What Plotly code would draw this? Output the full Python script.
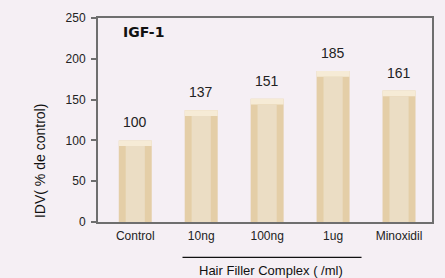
import plotly.graph_objects as go

categories = ["Control", "10ng", "100ng", "1ug", "Minoxidil"]
values = [100, 137, 151, 185, 161]
y_ticks = [0, 50, 100, 150, 200, 250]

bevel = 7  # height of the light top bevel, in data units
side_color = "#E4CEA7"
face_color = "#EBDDC4"
top_color = "#F6EBD6"
bg = "#F5EFF4"
axis_color = "#6E6E6E"

fig = go.Figure()
fig.add_trace(go.Bar(x=categories, y=values, width=0.5, marker=dict(color=side_color, line=dict(width=0)),
                     hoverinfo="skip"))
fig.add_trace(go.Bar(x=categories, y=[bevel] * len(values), base=[v - bevel for v in values], width=0.5,
                     marker=dict(color=top_color, line=dict(width=0)), hoverinfo="skip"))
fig.add_trace(go.Bar(x=categories, y=[v - bevel for v in values], width=0.29,
                     marker=dict(color=face_color, line=dict(width=0)), hoverinfo="skip"))

for c, v in zip(categories, values):
    fig.add_annotation(x=c, y=v, text=str(v), showarrow=False, yshift=18, yanchor="middle",
                       font=dict(family="Liberation Sans, Arial", size=14, color="#222"))

fig.add_annotation(xref="paper", yref="paper", x=0.069, y=0.933, xanchor="left", yanchor="middle",
                   text="<b>IGF-1</b>", showarrow=False,
                   font=dict(family="DejaVu Sans, Verdana", size=14, color="#111"))
fig.add_annotation(xref="paper", yref="paper", x=-0.173, y=0.30, textangle=-90, xanchor="center",
                   yanchor="middle", text="IDV( % de control)", showarrow=False,
                   font=dict(family="Liberation Sans, Arial", size=14, color="#111"))
fig.add_annotation(xref="paper", yref="paper", x=0.518, y=-0.240, xanchor="center", yanchor="middle",
                   text="Hair Filler Complex ( /ml)", showarrow=False,
                   font=dict(family="Liberation Sans, Arial", size=13, color="#111"))
fig.add_shape(type="line", xref="paper", yref="paper", x0=0.253, x1=0.789, y0=-0.173, y1=-0.173,
              line=dict(color="#111", width=1.2))

fig.update_layout(
    width=445, height=278, margin=dict(l=98, r=11, t=14, b=56),
    paper_bgcolor=bg, plot_bgcolor=bg, showlegend=False, barmode="overlay",
    xaxis=dict(range=[-0.565, 4.5], showline=True, linecolor=axis_color, linewidth=2, mirror=True,
               ticks="", tickfont=dict(family="Liberation Sans, Arial", size=12, color="#222"),
               ticklabelstandoff=2, showgrid=False, fixedrange=True),
    yaxis=dict(range=[0, 250], tickvals=y_ticks, showline=True, linecolor=axis_color, linewidth=2,
               mirror=True, ticks="outside", ticklen=5, tickcolor=axis_color, tickwidth=1.5,
               tickfont=dict(family="Liberation Sans, Arial", size=12, color="#222"),
               ticklabelstandoff=3, showgrid=False, zeroline=False, fixedrange=True),
)
fig.write_html("out.html", config={"displayModeBar": False},
               post_script="document.body.style.margin='0';document.body.style.overflow='hidden';"
                           "document.body.style.background='" + bg + "';")
